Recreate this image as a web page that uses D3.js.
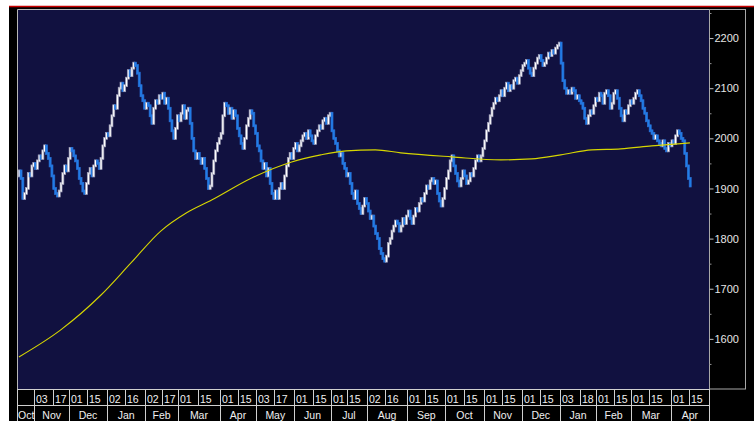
<!DOCTYPE html>
<html>
<head>
<meta charset="utf-8">
<script src="https://cdn.jsdelivr.net/npm/d3@7"></script>
<style>
  body { margin: 0; background: #fff; }
  svg { display: block; }
  text { font-family: Arial, "Liberation Sans", sans-serif; }
</style>
</head>
<body>
<svg id="chart" width="756" height="421"></svg>
<script>
// daily closes, one per trading day
const firstOpen = 1925;
const closes = [
  1935,1920,1880,1890,1900,1930,1925,1945,1950,1940,
  1955,1965,1960,1975,1985,1970,1960,1945,1925,1900,
  1890,1885,1895,1910,1930,1945,1935,1960,1980,1975,
  1965,1955,1940,1920,1910,1895,1890,1910,1930,1940,
  1925,1945,1955,1950,1940,1960,1985,2000,2010,2005,
  2025,2045,2065,2060,2085,2100,2110,2095,2105,2120,
  2135,2125,2140,2150,2145,2130,2105,2085,2075,2060,
  2070,2065,2045,2030,2060,2075,2070,2085,2080,2090,
  2070,2080,2060,2035,2015,2000,2020,2045,2035,2050,
  2065,2040,2055,2060,2030,2000,1975,1960,1970,1960,
  1950,1960,1940,1920,1900,1905,1930,1955,1975,1990,
  2000,2010,2045,2070,2065,2050,2060,2040,2055,2045,
  2020,2005,1990,1980,2000,2025,2040,2055,2050,2025,
  2010,1985,1975,1955,1940,1950,1925,1940,1910,1890,
  1880,1895,1880,1900,1910,1900,1925,1945,1960,1970,
  1960,1980,1990,1975,1985,1995,2005,2010,2000,2015,
  2005,1995,1990,2005,2015,2025,2020,2035,2040,2030,
  2045,2050,2015,2000,1990,1975,1965,1970,1950,1940,
  1925,1930,1910,1890,1880,1895,1870,1860,1850,1865,
  1880,1870,1855,1840,1845,1825,1810,1800,1780,1770,
  1760,1755,1765,1790,1800,1815,1825,1835,1830,1815,
  1825,1840,1830,1845,1855,1840,1830,1845,1860,1855,
  1870,1880,1875,1890,1905,1900,1915,1920,1910,1915,
  1890,1875,1865,1880,1900,1920,1935,1955,1965,1945,
  1930,1915,1905,1920,1935,1925,1910,1915,1930,1925,
  1940,1955,1965,1955,1965,1980,1995,2015,2030,2045,
  2060,2070,2080,2075,2085,2095,2085,2100,2110,2095,
  2105,2100,2115,2120,2110,2125,2135,2145,2150,2155,
  2140,2130,2125,2140,2150,2160,2165,2155,2145,2150,
  2160,2170,2165,2175,2170,2180,2185,2190,2150,2115,
  2100,2090,2095,2090,2100,2095,2080,2085,2075,2070,
  2060,2040,2030,2045,2055,2050,2065,2080,2075,2090,
  2085,2070,2090,2095,2085,2060,2070,2090,2095,2080,
  2060,2045,2035,2055,2050,2065,2075,2070,2080,2090,
  2095,2085,2075,2060,2050,2035,2025,2015,2010,2000,
  2005,1995,1990,1985,1995,1980,1975,1990,1985,1995,
  1990,2005,2015,2010,2000,1995,1970,1945,1920,1905
];

// moving average line, sampled at trading-day positions
const maDay = [0, 23, 45, 62, 78, 92, 106, 128, 150, 166, 180, 196, 210, 238, 265, 282, 298, 315, 331, 348, 369];
const maVal = [1564, 1618, 1687, 1753, 1815, 1851, 1877, 1921, 1953, 1967, 1975, 1977, 1971, 1963, 1957, 1959, 1967, 1977, 1979, 1985, 1991];

// date bar
const monthNames = ["Oct","Nov","Dec","Jan","Feb","Mar","Apr","May","Jun","Jul","Aug","Sep","Oct","Nov","Dec","Jan","Feb","Mar","Apr"];
const monthStart = [0, 9, 28, 49, 70, 88, 111, 131, 152, 172, 192, 214, 235, 256, 277, 298, 318, 337, 359];
const dayLabels = ["03","17","01","15","02","16","02","17","01","15","01","15","03","17","01","15","01","15",
                   "02","16","01","15","01","15","01","15","01","15","03","18","01","15","01","15","01","15"];
const dayIndex = [9, 19, 28, 38, 49, 59, 70, 79, 88, 99, 111, 121, 131, 141, 152, 162, 172, 181,
                  192, 202, 214, 224, 235, 245, 256, 266, 277, 287, 298, 309, 318, 328, 337, 347, 359, 369];
const totalDays = 380;

const yTicks = [1600, 1700, 1800, 1900, 2000, 2100, 2200];
const yMinor = [1550, 1650, 1750, 1850, 1950, 2050, 2150, 2250];

const svg = d3.select("#chart");
const P = { left: 18, right: 709, top: 10, bottom: 389 };

// black frame + red top rule
svg.append("rect").attr("x", 9).attr("y", 6).attr("width", 745).attr("height", 415).attr("fill", "#000");
svg.append("line").attr("x1", 9).attr("x2", 754).attr("y1", 6.5).attr("y2", 6.5)
  .attr("stroke", "#c80000").attr("stroke-width", 1.5);

// plot area
svg.append("rect").attr("x", P.left).attr("y", P.top)
  .attr("width", P.right - P.left).attr("height", P.bottom - P.top).attr("fill", "#111140");
svg.append("path").attr("d", `M17.5,${P.bottom}V9.5H${P.right}`)
  .attr("fill", "none").attr("stroke", "#b8b8b8");

const x = d3.scaleLinear().domain([0, totalDays]).range([P.left, P.right]);
const y = d3.scaleLinear().domain([1500, 2256]).range([P.bottom, P.top]);

// candles: open = previous close
const candles = closes.map((c, i) => ({ i, o: i === 0 ? firstOpen : closes[i - 1], c }));
const cg = svg.append("g");
cg.selectAll("rect").data(candles).join("rect")
  .attr("x", d => x(d.i) + 0.2)
  .attr("width", d => x(d.i + 1) - x(d.i) + 0.2)
  .attr("y", d => y(Math.max(d.o, d.c)) - 1)
  .attr("height", d => Math.max(2.5, Math.abs(y(d.o) - y(d.c)) + 2))
  .attr("fill", d => d.c >= d.o ? "#ffffff" : "#1f7fe8")
  .attr("stroke", d => d.c >= d.o ? "#9a9ab4" : "#2a70d8")
  .attr("stroke-width", 0.7);

// moving average
const maPts = maDay.map((d, k) => [d, maVal[k]]);
svg.append("path").datum(maPts)
  .attr("fill", "none").attr("stroke", "#d6d600").attr("stroke-width", 1.1)
  .attr("d", d3.line().x(d => x(d[0] + 0.5)).y(d => y(d[1])).curve(d3.curveMonotoneX));

// right axis box
svg.append("rect").attr("x", P.right + 0.5).attr("y", P.top - 0.5)
  .attr("width", 36).attr("height", P.bottom - P.top + 0.5)
  .attr("fill", "none").attr("stroke", "#a8a8a8");

const ax = svg.append("g").attr("transform", `translate(${P.right + 0.5},0)`)
  .call(d3.axisRight(y).tickValues(yTicks).tickSize(4).tickPadding(1).tickFormat(d3.format("d")));
ax.select(".domain").remove();
ax.selectAll("line").attr("stroke", "#c0c0c0");
ax.selectAll("text").attr("fill", "#e6e6e6").style("font-size", "11px").attr("font-family", null);

const axm = svg.append("g").attr("transform", `translate(${P.right + 0.5},0)`)
  .call(d3.axisRight(y).tickValues(yMinor).tickSize(2).tickFormat(""));
axm.select(".domain").remove();
axm.selectAll("line").attr("stroke", "#909090");

// date bar
const db = svg.append("g");
const rowTop = P.bottom, rowMid = 405, rowBot = 421;
const lineCol = "#d0d0d0";
db.append("line").attr("x1", 17).attr("x2", P.right).attr("y1", rowTop + 0.5).attr("y2", rowTop + 0.5).attr("stroke", lineCol);
db.append("line").attr("x1", 17).attr("x2", P.right).attr("y1", rowMid + 0.5).attr("y2", rowMid + 0.5).attr("stroke", lineCol);
db.append("line").attr("x1", 17.5).attr("x2", 17.5).attr("y1", rowTop).attr("y2", rowBot).attr("stroke", lineCol);
db.append("line").attr("x1", P.right + 0.5).attr("x2", P.right + 0.5).attr("y1", rowTop).attr("y2", rowBot).attr("stroke", lineCol);

db.selectAll("line.day").data(dayIndex).join("line").attr("class", "day")
  .attr("x1", d => Math.round(x(d)) + 0.5).attr("x2", d => Math.round(x(d)) + 0.5)
  .attr("y1", rowTop).attr("y2", rowMid).attr("stroke", lineCol);
db.selectAll("text.day").data(dayIndex).join("text").attr("class", "day")
  .attr("x", d => Math.round(x(d)) + 2).attr("y", 403)
  .attr("fill", "#f0f0f0").style("font-size", "10.5px")
  .text((d, k) => dayLabels[k]);

db.selectAll("line.mon").data(monthStart.slice(1)).join("line").attr("class", "mon")
  .attr("x1", d => Math.round(x(d)) + 0.5).attr("x2", d => Math.round(x(d)) + 0.5)
  .attr("y1", rowMid).attr("y2", rowBot).attr("stroke", lineCol);
db.selectAll("text.mon").data(monthStart).join("text").attr("class", "mon")
  .attr("x", (d, k) => (x(d) + x(k + 1 < monthStart.length ? monthStart[k + 1] : totalDays)) / 2)
  .attr("y", 419).attr("text-anchor", "middle")
  .attr("fill", "#f0f0f0").style("font-size", "10.5px")
  .text((d, k) => monthNames[k]);
</script>
</body>
</html>
